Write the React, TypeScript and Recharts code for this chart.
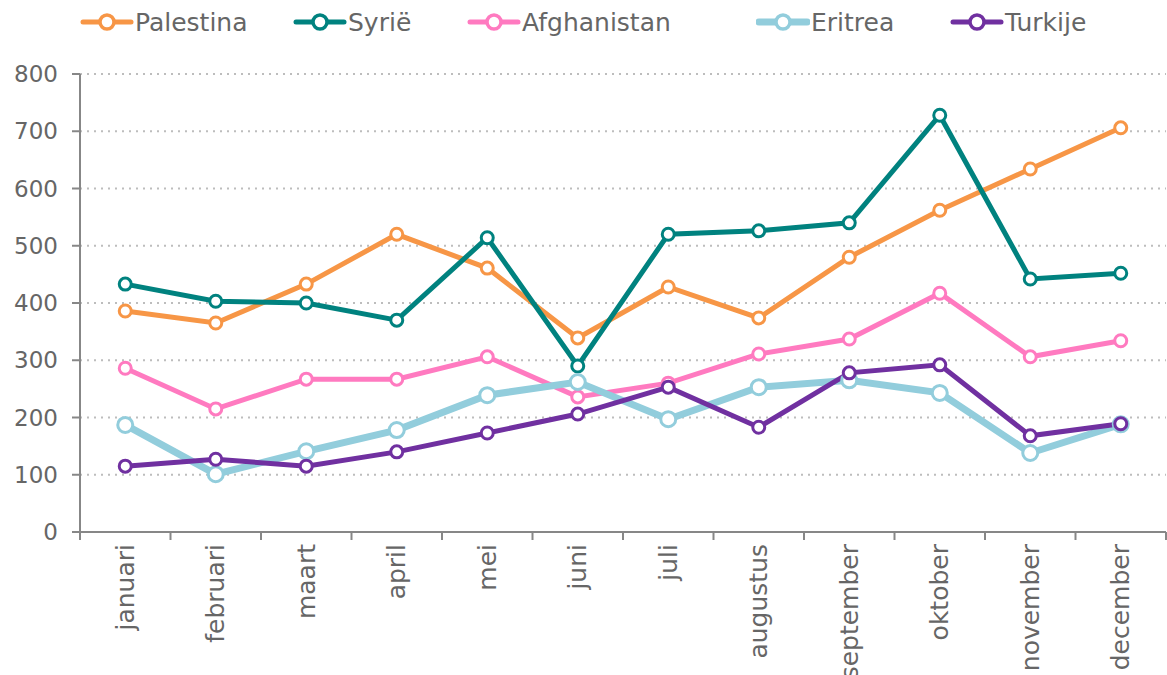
import React from 'react';
import { LineChart, Line, XAxis, YAxis, CartesianGrid } from 'recharts';

const months = ['januari', 'februari', 'maart', 'april', 'mei', 'juni', 'juli', 'augustus', 'september', 'oktober', 'november', 'december'];

const palestina = [386, 365, 433, 520, 461, 339, 428, 374, 480, 562, 634, 706];
const syrie = [433, 403, 400, 370, 514, 290, 520, 526, 540, 728, 442, 452];
const afghanistan = [286, 215, 267, 267, 306, 236, 260, 311, 337, 417, 306, 334];
const eritrea = [187, 101, 141, 178, 239, 262, 197, 253, 265, 243, 138, 188];
const turkije = [115, 127, 115, 140, 173, 206, 253, 183, 278, 292, 168, 189];

const yTicks = [0, 100, 200, 300, 400, 500, 600, 700, 800];

const series = [
  { key: 'Palestina', values: palestina, color: '#F79646', width: 5, r: 6, lx: 80 },
  { key: 'Syrië', values: syrie, color: '#00827F', width: 5, r: 6, lx: 293 },
  { key: 'Afghanistan', values: afghanistan, color: '#FF7AC0', width: 5, r: 6, lx: 467 },
  { key: 'Eritrea', values: eritrea, color: '#92CDDC', width: 7, r: 7.5, lx: 756 },
  { key: 'Turkije', values: turkije, color: '#7030A0', width: 5, r: 6, lx: 950 },
];

const data = months.map((m, i) => {
  const row: Record<string, string | number> = { month: m };
  series.forEach((s) => (row[s.key] = s.values[i]));
  return row;
});

const W = 1167;
const H = 675;
const LEFT = 80;
const RIGHT = 1;
const step = (W - LEFT - RIGHT) / months.length;
const font = '"DejaVu Sans", Verdana, sans-serif';
const axisColor = '#878787';
const textColor = '#666666';

function MonthTick(props: any) {
  const { x, y, payload, index } = props;
  return (
    <g>
      <line x1={x - step / 2} x2={x - step / 2} y1={y - 8} y2={y} stroke={axisColor} strokeWidth={2} />
      {index === months.length - 1 && (
        <line x1={x + step / 2} x2={x + step / 2} y1={y - 8} y2={y} stroke={axisColor} strokeWidth={2} />
      )}
      <text
        transform={`translate(${x},${y + 4}) rotate(-90)`}
        textAnchor="end"
        dominantBaseline="central"
        fill={textColor}
        fontSize={25}
        fontFamily={font}
      >
        {payload.value}
      </text>
    </g>
  );
}

function LegendRow() {
  return (
    <div style={{ position: 'absolute', left: 0, top: 0, width: W, height: 44, fontFamily: font, fontSize: 25, color: textColor }}>
      {series.map((s) => (
        <div key={s.key} style={{ position: 'absolute', left: s.lx, top: 6, display: 'flex', alignItems: 'center' }}>
          <svg width={54} height={32}>
            <line x1={3} x2={51} y1={16} y2={16} stroke={s.color} strokeWidth={s.width} strokeLinecap="round" />
            <circle cx={27} cy={16} r={7} fill="#fff" stroke={s.color} strokeWidth={3.5} />
          </svg>
          <span style={{ marginLeft: 1 }}>{s.key}</span>
        </div>
      ))}
    </div>
  );
}

export default function App() {
  return (
    <div style={{ position: 'absolute', left: 0, top: 0, width: W, height: H, background: '#fff' }}>
      <LegendRow />
      <LineChart width={W} height={H} data={data} margin={{ top: 74, right: RIGHT, bottom: 0, left: 0 }}>
        <CartesianGrid vertical={false} stroke="#bdbdbd" strokeWidth={2} strokeDasharray="2 5" />
        <XAxis
          dataKey="month"
          height={143}
          interval={0}
          padding={{ left: step / 2, right: step / 2 }}
          axisLine={{ stroke: axisColor, strokeWidth: 2 }}
          tickLine={false}
          tick={<MonthTick />}
        />
        <YAxis
          width={LEFT}
          domain={[0, 800]}
          ticks={yTicks}
          interval={0}
          axisLine={{ stroke: axisColor, strokeWidth: 2 }}
          tickLine={{ stroke: axisColor, strokeWidth: 2 }}
          tickSize={8}
          tickMargin={14}
          tick={{ fill: textColor, fontSize: 23, fontFamily: font }}
        />
        {series.map((s) => (
          <Line
            key={s.key}
            dataKey={s.key}
            type="linear"
            stroke={s.color}
            strokeWidth={s.width}
            dot={{ r: s.r, fill: '#fff', stroke: s.color, strokeWidth: 3 }}
            activeDot={false}
            isAnimationActive={false}
          />
        ))}
      </LineChart>
    </div>
  );
}
